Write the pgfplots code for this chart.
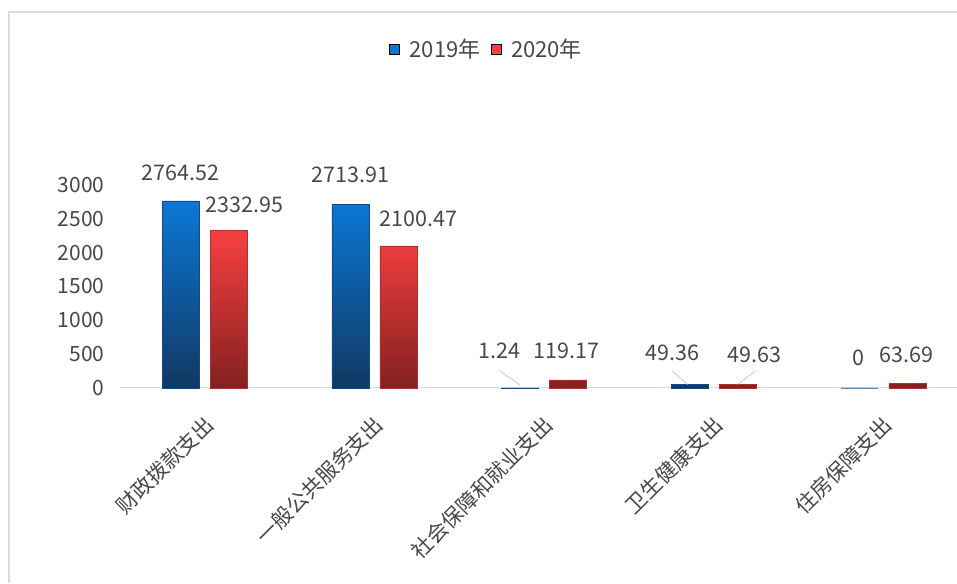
\documentclass[border=0pt]{standalone}
\usepackage{fontspec}
\setmainfont{Noto Sans CJK SC}
\usepackage{pgfplots}
\pgfplotsset{compat=1.18}

\definecolor{bluetop}{RGB}{10,120,214}
\definecolor{bluemid}{RGB}{12,96,176}
\definecolor{bluebot}{RGB}{18,56,98}
\definecolor{redtop}{RGB}{248,64,64}
\definecolor{redmid}{RGB}{214,50,50}
\definecolor{redbot}{RGB}{132,32,32}
\definecolor{txt}{RGB}{72,72,72}
\definecolor{frame}{RGB}{220,220,220}

\begin{document}
\begin{tikzpicture}
\useasboundingbox (0pt,0pt) rectangle (957pt,583pt);
\fill[white] (0pt,0pt) rectangle (957pt,583pt);
\draw[frame, line width=2pt] (9pt,0pt) -- (9pt,571pt) -- (957pt,571pt);

\begin{axis}[
  at={(120pt,195pt)}, anchor=south west,
  scale only axis,
  width=837pt, height=203pt,
  xmin=-0.5, xmax=4.434,
  ymin=0, ymax=3000,
  ybar, bar width=37pt,
  axis lines*=left,
  y axis line style={draw=none},
  x axis line style={draw=frame, line width=1pt},
  tick style={draw=none},
  ytick={0,500,1000,1500,2000,2500,3000},
  xtick={0,1,2,3,4},
  xticklabels={财政拨款支出,一般公共服务支出,社会保障和就业支出,卫生健康支出,住房保障支出},
  ticklabel style={font=\fontsize{21}{25}\selectfont, text=txt},
  /pgf/number format/assume math mode=true,
  /pgf/number format/1000 sep={},
  yticklabel style={xshift=-12pt},
  xticklabel style={anchor=east, xshift=7pt, yshift=-26pt, rotate=45},
  clip=false,
  legend columns=2,
  legend style={at={(axis description cs:0.438,1.67)}, anchor=center, draw=none,
    font=\fontsize{22}{26}\selectfont, text=txt,
    /tikz/every odd column/.append style={column sep=8pt},
    /tikz/every even column/.append style={column sep=8pt}},
  legend image code/.code={\fill[#1] (0pt,-5pt) rectangle (10pt,5pt);},
]
\addlegendimage{fill=bluetop}
\addlegendentry{2019年}
\addlegendimage{fill=redtop}
\addlegendentry{2020年}

% 2019
\addplot[forget plot, draw=bluebot!70!bluetop, line width=0.6pt, bar shift=-24pt,
  top color=bluetop, middle color=bluemid, bottom color=bluebot]
  coordinates {(0,2764.52) (1,2713.91) (2,1.24) (3,49.36) (4,0)};
% 2020
\addplot[forget plot, draw=redbot!60!redtop, line width=0.6pt, bar shift=24pt,
  top color=redtop, middle color=redmid, bottom color=redbot]
  coordinates {(0,2332.95) (1,2100.47) (2,119.17) (3,49.63) (4,63.69)};

\begin{scope}[every node/.style={font=\fontsize{21.5}{25}\selectfont, text=txt}]
\node at (axis cs:-0.144,3177) {2764.52};
\node at (axis cs:0.233,2704) {2332.95};
\node at (axis cs:0.857,3148) {2713.91};
\node at (axis cs:1.258,2497) {2100.47};
\node at (axis cs:1.735,547) {1.24};
\node at (axis cs:2.130,547) {119.17};
\node at (axis cs:2.755,517) {49.36};
\node at (axis cs:3.238,488) {49.63};
\node at (axis cs:3.851,443) {0};
\node at (axis cs:4.134,488) {63.69};
\end{scope}
\draw[gray!70] (axis cs:1.740,251) -- (axis cs:1.858,44);
\draw[gray!70] (axis cs:2.755,251) -- (axis cs:2.849,44);
\draw[gray!70] (axis cs:3.244,251) -- (axis cs:3.138,44);
\end{axis}
\end{tikzpicture}
\end{document}
